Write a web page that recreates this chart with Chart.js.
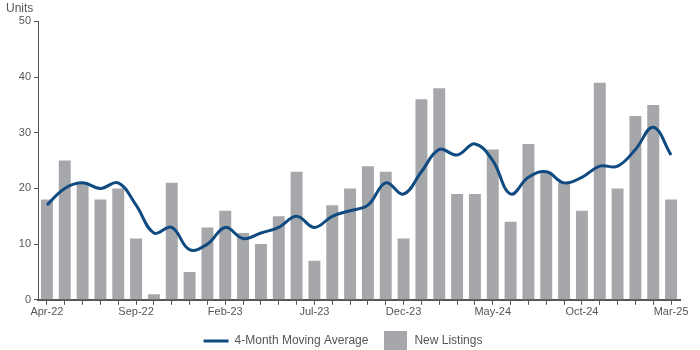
<!DOCTYPE html>
<html lang="en">
<head>
  <meta charset="UTF-8">
  <title>New Listings</title>
  <script src="https://cdn.jsdelivr.net/npm/chart.js"></script>
  <style>
    body {
      margin: 0;
      background: #fff;
    }
    .wrap {
      position: relative;
      width: 700px;
      height: 350px;
    }
  </style>
</head>
<body>
  <div class="wrap">
    <canvas id="listingsChart"></canvas>
  </div>

  <script>
    // Miesiące od Apr-22 do Mar-25
    const months = [
      'Apr-22', 'May-22', 'Jun-22', 'Jul-22', 'Aug-22', 'Sep-22', 'Oct-22', 'Nov-22', 'Dec-22',
      'Jan-23', 'Feb-23', 'Mar-23', 'Apr-23', 'May-23', 'Jun-23', 'Jul-23', 'Aug-23', 'Sep-23',
      'Oct-23', 'Nov-23', 'Dec-23', 'Jan-24', 'Feb-24', 'Mar-24', 'Apr-24', 'May-24', 'Jun-24',
      'Jul-24', 'Aug-24', 'Sep-24', 'Oct-24', 'Nov-24', 'Dec-24', 'Jan-25', 'Feb-25', 'Mar-25'
    ];
    const newListings = [
      18, 25, 21, 18, 20, 11, 1, 21, 5,
      13, 16, 12, 10, 15, 23, 7, 17, 20,
      24, 23, 11, 36, 38, 19, 19, 27, 14,
      28, 23, 21, 16, 39, 20, 33, 35, 18
    ];
    const movingAverage = [
      17, 20, 21, 20, 21, 17, 12, 13, 9,
      10, 13, 11, 12, 13, 15, 13, 15, 16,
      17, 21, 19, 23, 27, 26, 28, 25, 19,
      22, 23, 21, 22, 24, 24, 27, 31, 26
    ];
    const labelEvery = 5;

    const axisColor = '#555';
    const textColor = '#555';
    const barColor = '#a6a7aa';
    const lineColor = '#0f4a80';
    Chart.defaults.font.family = '"Liberation Sans", Arial, sans-serif';
    Chart.defaults.font.size = 11;
    Chart.defaults.color = textColor;

    // szary kwadrat do legendy (większy niż domyślny)
    const boxMarker = document.createElement('canvas');
    boxMarker.width = 23;
    boxMarker.height = 20;
    const bctx = boxMarker.getContext('2d');
    bctx.fillStyle = barColor;
    bctx.fillRect(0, 0, 23, 20);

    const ctx = document.getElementById('listingsChart').getContext('2d');
    const chart = new Chart(ctx, {
      type: 'bar',
      data: {
        labels: months,
        datasets: [
          {
            type: 'line',
            label: '4-Month Moving Average',
            data: movingAverage,
            borderColor: lineColor,
            backgroundColor: lineColor,
            borderWidth: 3,
            pointRadius: 0,
            tension: 0.4,
            fill: false,
            order: 0
          },
          {
            label: 'New Listings',
            data: newListings,
            backgroundColor: barColor,
            borderWidth: 0,
            barPercentage: 0.67,
            categoryPercentage: 1.0,
            order: 1
          }
        ]
      },
      options: {
        responsive: true,
        maintainAspectRatio: false,
        animation: false,
        layout: {
          padding: { left: 6, right: 20, top: 0, bottom: 0 }
        },
        plugins: {
          title: {
            display: true,
            text: 'Units',
            align: 'start',
            color: textColor,
            font: { size: 12, weight: 'normal' },
            padding: { top: 1, bottom: 6 }
          },
          legend: {
            position: 'bottom',
            maxHeight: 30,
            labels: {
              usePointStyle: true,
              pointStyleWidth: 25,
              boxWidth: 25,
              padding: 15,
              color: textColor,
              font: { size: 12 },
              generateLabels: function (chart) {
                const items = Chart.defaults.plugins.legend.labels.generateLabels(chart);
                items[0].pointStyle = 'line';
                items[1].pointStyle = boxMarker;
                return items;
              }
            }
          },
          tooltip: { enabled: false }
        },
        scales: {
          x: {
            offset: true,
            grid: {
              display: true,
              drawOnChartArea: false,
              drawTicks: true,
              tickLength: 5,
              offset: false,
              color: axisColor
            },
            border: { color: axisColor, width: 2 },
            ticks: {
              autoSkip: false,
              maxRotation: 0,
              padding: 1,
              color: textColor,
              callback: function (value, index) {
                return index % labelEvery === 0 ? months[index] : '';
              }
            }
          },
          y: {
            min: 0,
            max: 50,
            afterFit: function (scale) {
              scale.width = 32;
            },
            grid: {
              display: true,
              drawOnChartArea: false,
              drawTicks: true,
              tickLength: 4,
              color: axisColor
            },
            border: { color: axisColor, width: 1 },
            ticks: {
              stepSize: 10,
              padding: 3,
              color: textColor
            }
          }
        }
      }
    });
  </script>
</body>
</html>
